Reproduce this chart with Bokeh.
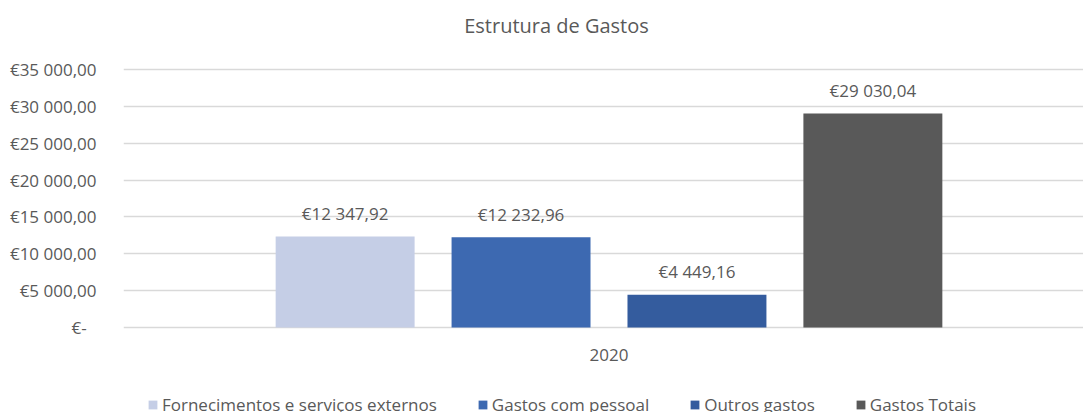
from bokeh.plotting import figure
from bokeh.models import ColumnDataSource, Range1d, FixedTicker, Legend, LegendItem, Label
from bokeh.core.properties import value
from bokeh.embed import file_html
from bokeh.resources import INLINE

# ---------------- data ----------------
chart_title = "Estrutura de Gastos"
categories = ["2020"]
series_names = [
    "Fornecimentos e serviços externos",
    "Gastos com pessoal",
    "Outros gastos",
    "Gastos Totais",
]
values_2020 = [12347.92, 12232.96, 4449.16, 29030.04]
series_colors = ["#C5CEE6", "#3D69B1", "#345C9E", "#595959"]
y_ticks = [0, 5000, 10000, 15000, 20000, 25000, 30000, 35000]
y_tick_labels = ["€-\u2007", "€5 000,00", "€10 000,00", "€15 000,00",
                 "€20 000,00", "€25 000,00", "€30 000,00", "€35 000,00"]

FONT = "Open Sans"
TXT = "#595959"


def eur(v):
    s = f"{v:,.2f}".replace(",", " ").replace(".", ",")
    return "€" + s


# Excel-like clustered column layout (one category occupies [0, 1])
gap_width = 2.19      # gap between clusters, in bar widths
overlap = -0.266      # negative overlap = gap between bars, in bar widths
n = len(series_names)
bar_w = 1.0 / (n + (n - 1) * (-overlap) + gap_width)
pitch = bar_w * (1 - overlap)
cat_center = 0.5
xs = [cat_center + (i - (n - 1) / 2) * pitch for i in range(n)]

source = ColumnDataSource(dict(
    x=xs,
    top=values_2020,
    color=series_colors,
    name=series_names,
    label=[eur(v) for v in values_2020],
))
cat_source = ColumnDataSource(dict(x=[cat_center], y=[0], text=categories))

# plot area: value axis 0..35000 spans 258 px; 85 px below (category + legend),
# 69 px above (title)
y_max = y_ticks[-1]
below_px, axis_px, above_px = 85, 258, 69
y_lo = -y_max * below_px / axis_px
y_hi = y_max + y_max * above_px / axis_px

p = figure(
    width=1083, height=412,
    output_backend="svg", toolbar_location=None,
    x_range=Range1d(0, 960 / 971), y_range=Range1d(y_lo, y_hi),
    x_axis_location=None,
    min_border_left=123, min_border_right=0,
    min_border_top=0, min_border_bottom=0,
    outline_line_color=None,
)
p.background_fill_color = "white"
p.border_fill_color = "white"

bars = p.vbar(x="x", top="top", bottom=0, width=bar_w, color="color",
              line_color=None, source=source)

p.text(x="x", y="top", text="label", source=source,
       text_align="center", text_baseline="middle", y_offset=-23,
       text_font=value(FONT), text_font_size="17px", text_color=TXT)

# category label under the value-axis baseline
p.text(x="x", y="y", text="text", source=cat_source,
       text_align="center", text_baseline="middle", y_offset=27,
       text_font=value(FONT), text_font_size="17px", text_color=TXT)

# value axis
yax = p.yaxis[0]
yax.ticker = FixedTicker(ticks=y_ticks)
yax.major_label_overrides = {t: l for t, l in zip(y_ticks, y_tick_labels)}
yax.axis_line_color = None
yax.major_tick_line_color = None
yax.minor_tick_line_color = None
yax.major_label_standoff = 21
yax.major_label_text_font = FONT
yax.major_label_text_font_size = "17px"
yax.major_label_text_color = TXT

p.xgrid.visible = False
p.ygrid.ticker = FixedTicker(ticks=y_ticks)
p.ygrid.grid_line_color = "#D9D9D9"
p.ygrid.grid_line_width = 1.5

# title
p.add_layout(Label(x=433, y=387, x_units="screen", y_units="screen",
                   text=chart_title, text_align="center", text_baseline="middle",
                   text_font=FONT, text_font_size="20px", text_color=TXT))

# legend (one item per bar)
items = [LegendItem(label=series_names[i], renderers=[bars], index=i) for i in range(n)]
legend = Legend(items=items, orientation="horizontal", location=(24, -4),
                glyph_width=11, glyph_height=11, label_standoff=4, spacing=40,
                padding=0, margin=0, border_line_color=None,
                background_fill_alpha=0,
                label_text_font=FONT, label_text_font_size="17px",
                label_text_color=TXT)
p.add_layout(legend, "center")

open("out.html", "w").write(file_html(p, INLINE))
